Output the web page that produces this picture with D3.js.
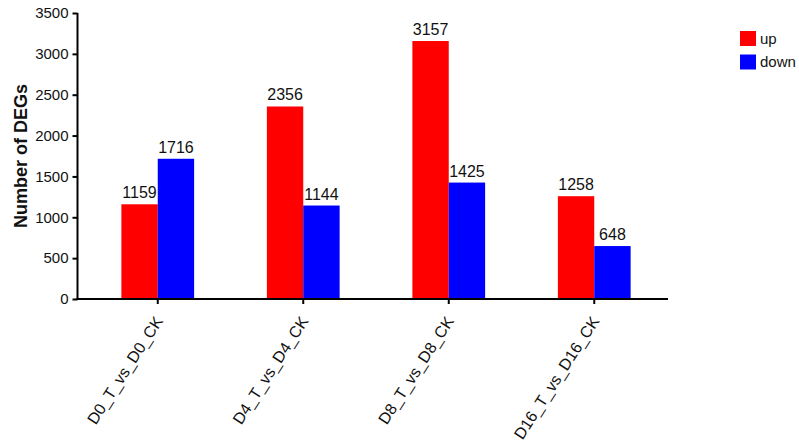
<!DOCTYPE html>
<html>
<head>
<meta charset="utf-8">
<script src="https://cdn.jsdelivr.net/npm/d3@7"></script>
<style>
  body { margin: 0; background: #fff; }
  svg { display: block; font-family: "Liberation Sans", Arial, sans-serif; }
</style>
</head>
<body>
<div id="chart"></div>
<script>

// data
var groups = ["D0_T_vs_D0_CK", "D4_T_vs_D4_CK", "D8_T_vs_D8_CK", "D16_T_vs_D16_CK"]
var upValues = [1159, 2356, 3157, 1258]
var downValues = [1716, 1144, 1425, 648]
var seriesNames = ["up", "down"]
var seriesColours = ["#ff0000", "#0000ff"]
var yTicks = [0, 500, 1000, 1500, 2000, 2500, 3000, 3500]

var width = 799, height = 442

var svg = d3.select("#chart").append("svg")
    .attr("width", width)
    .attr("height", height)

var x = d3.scaleBand()
    .domain(groups)
    .range([85, 667])
    .paddingInner(0.5)
    .paddingOuter(0.25)

var sub = d3.scaleBand()
    .domain(seriesNames)
    .range([0, x.bandwidth()])

var y = d3.scaleLinear()
    .domain([0, 3500])
    .range([299, 13])

var colour = d3.scaleOrdinal().domain(seriesNames).range(seriesColours)

var rows = []
groups.forEach(function(g, i) {
    rows.push({ group: g, series: "up", value: upValues[i] })
    rows.push({ group: g, series: "down", value: downValues[i] })
})

// bars
svg.append("g").selectAll("rect")
    .data(rows)
    .join("rect")
    .attr("x", d => x(d.group) + sub(d.series))
    .attr("y", d => y(d.value))
    .attr("width", sub.bandwidth())
    .attr("height", d => y(0) - y(d.value))
    .attr("fill", d => colour(d.series))

// value labels
svg.append("g").selectAll("text")
    .data(rows)
    .join("text")
    .attr("x", d => x(d.group) + sub(d.series) + sub.bandwidth() / 2)
    .attr("y", d => y(d.value) - 6)
    .attr("text-anchor", "middle")
    .attr("font-size", 16)
    .attr("fill", "#111")
    .text(d => d.value)

// y axis
var yAxis = svg.append("g")
    .attr("transform", "translate(77.5,0)")
    .call(d3.axisLeft(y).tickValues(yTicks).tickFormat(d3.format("d")).tickSize(5).tickPadding(4))
yAxis.select(".domain").attr("stroke", "#000").attr("stroke-width", 2).attr("d", "M0," + y(3500) + "V" + y(0))
yAxis.selectAll(".tick line").attr("stroke-width", 2)
yAxis.selectAll("text").attr("font-size", 15).attr("fill", "#111")
    .style("font-family", "'Liberation Sans', Arial, sans-serif")

// x axis
var xAxis = svg.append("g")
    .attr("transform", "translate(0," + y(0) + ")")
    .call(d3.axisBottom(x).tickSize(5).tickSizeOuter(0))
xAxis.select(".domain").attr("stroke", "#000").attr("stroke-width", 2).attr("d", "M76.5,0H668")
xAxis.selectAll(".tick line").attr("stroke-width", 2)
xAxis.selectAll("text")
    .attr("font-size", 16)
    .attr("fill", "#111")
    .style("font-family", "'Liberation Sans', Arial, sans-serif")
    .attr("text-anchor", "end")
    .attr("dx", 0)
    .attr("dy", "0.35em")
    .attr("y", 0)
    .attr("transform", "translate(1,19) rotate(-57)")

// y title
svg.append("text")
    .attr("transform", "translate(27,156) rotate(-90)")
    .attr("text-anchor", "middle")
    .attr("font-size", 18)
    .attr("font-weight", "bold")
    .attr("fill", "#111")
    .text("Number of DEGs")

// legend
var legend = svg.append("g").selectAll("g")
    .data(seriesNames)
    .join("g")
    .attr("transform", (d, i) => "translate(740," + (31 + i * 23.5) + ")")

legend.append("rect")
    .attr("width", 16)
    .attr("height", 15)
    .attr("fill", d => colour(d))

legend.append("text")
    .attr("x", 20)
    .attr("y", 12.5)
    .attr("font-size", 15)
    .attr("fill", "#111")
    .text(d => d)

</script>
</body>
</html>
